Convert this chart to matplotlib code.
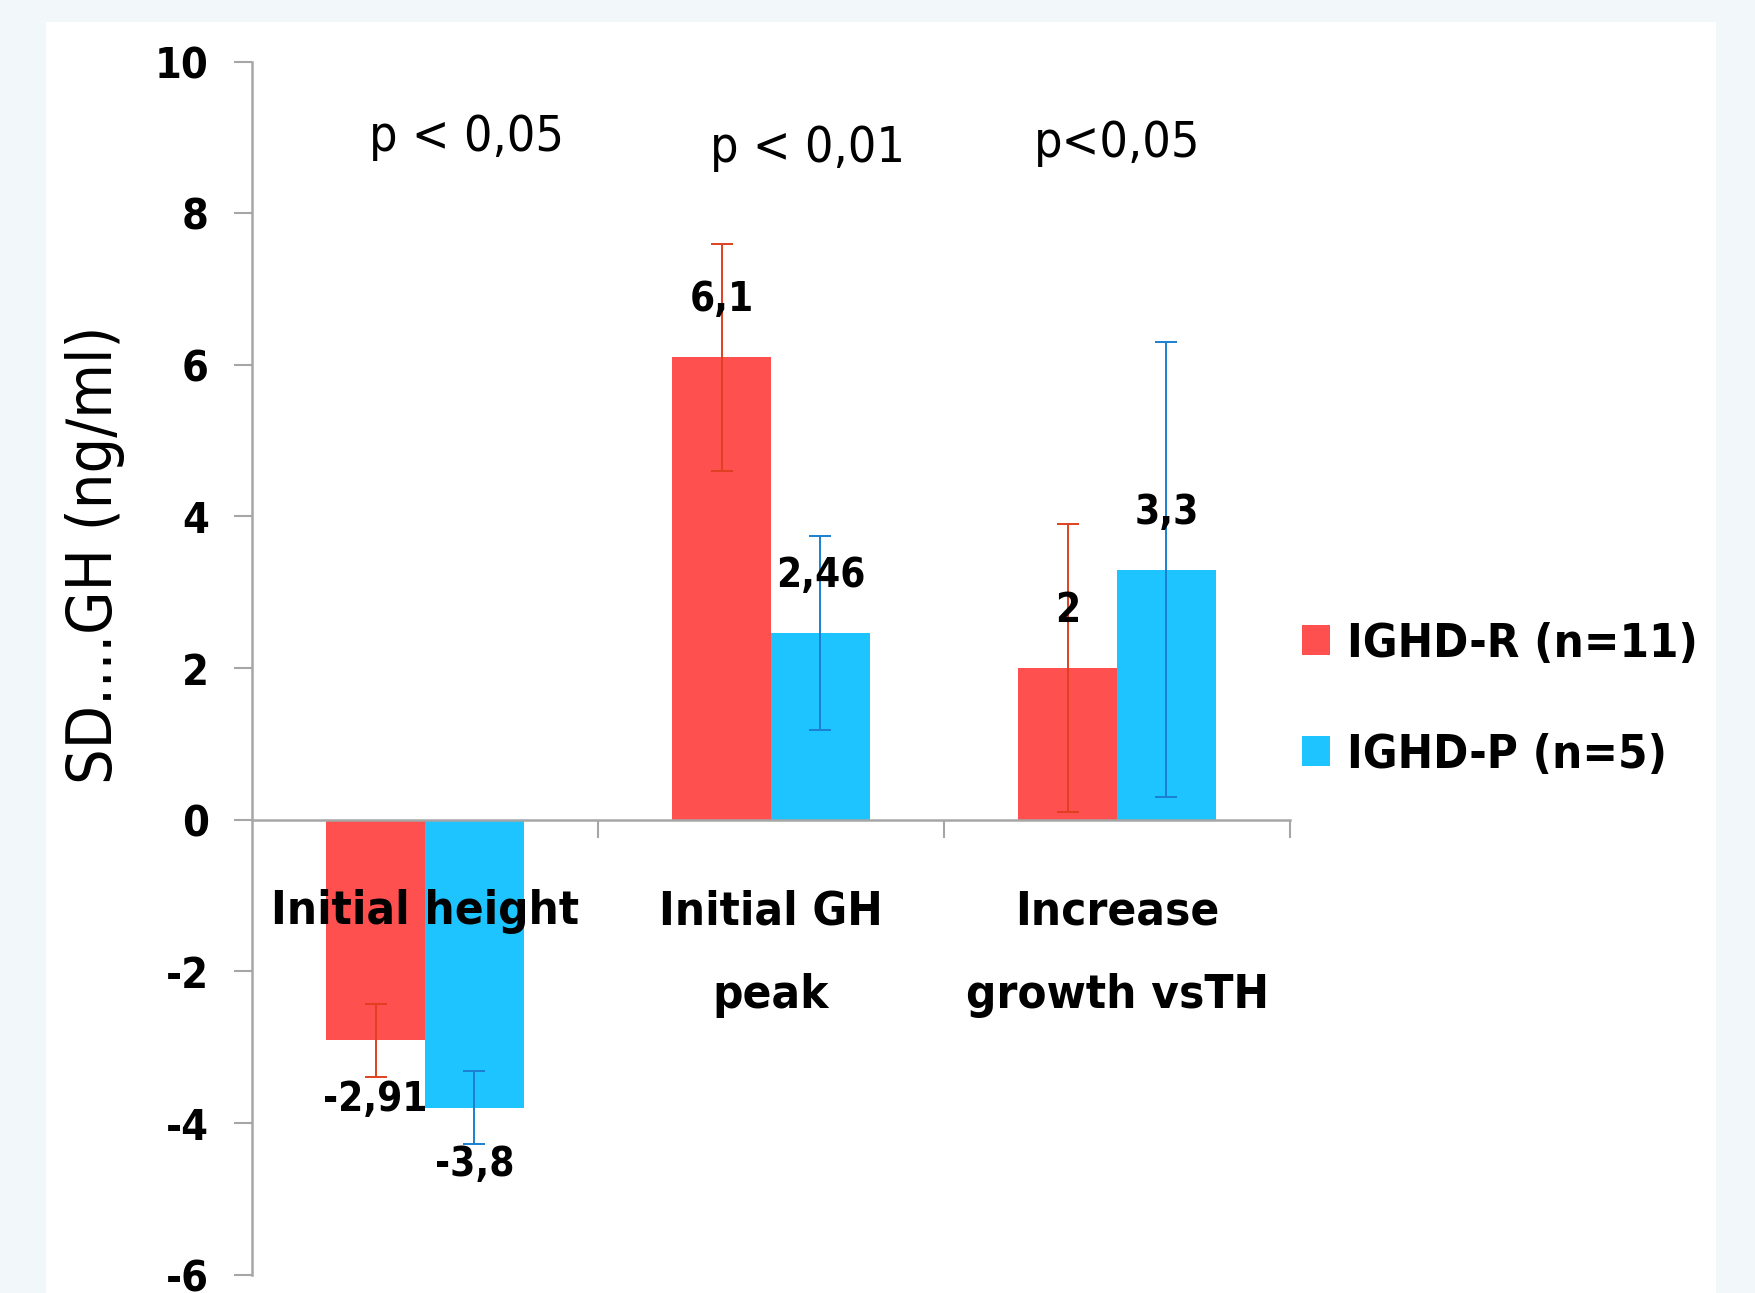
import matplotlib
matplotlib.use("Agg")
import matplotlib.pyplot as plt
from matplotlib.patches import Rectangle, Patch
import numpy as np

plt.rcParams['font.family'] = ['DejaVu Sans']
plt.rcParams['font.stretch'] = 'condensed'

categories = ["Initial height", "Initial GH\npeak", "Increase\ngrowth vsTH"]
series_names = ["IGHD-R (n=11)", "IGHD-P (n=5)"]
values_r = [-2.91, 6.1, 2.0]
values_p = [-3.8, 2.46, 3.3]
err_r = [0.48, 1.5, 1.9]
err_p = [0.48, 1.28, 3.0]
labels_r = ["-2,91", "6,1", "2"]
labels_p = ["-3,8", "2,46", "3,3"]
pvalues = ["p < 0,05", "p < 0,01", "p<0,05"]
pvalue_pos = [(0.12, 9.0), (1.105, 8.86), (2.0, 8.92)]
yticks = [-6, -4, -2, 0, 2, 4, 6, 8, 10]

col_r = "#FF5050"
col_p = "#1EC4FF"
ecol_r = "#E04020"
ecol_p = "#1A80D0"
axis_col = "#A6A6A6"

fig = plt.figure(figsize=(17.56, 12.93), dpi=100)
fig.patch.set_facecolor("#F2F7FA")
fig.patches.append(Rectangle((46/1756, 0), (1716-46)/1756, 1-22/1293,
                             transform=fig.transFigure, facecolor="white",
                             edgecolor="none", zorder=-10))

ax = fig.add_axes([0.1435, 0.0142, 0.5912, 0.9382])
ax.set_zorder(2)
ax.set_facecolor("none")

x = np.arange(len(categories))
w = 0.285
ax.bar(x - w/2, values_r, w, color=col_r, zorder=1)
ax.bar(x + w/2, values_p, w, color=col_p, zorder=1)
ax.errorbar(x - w/2, values_r, yerr=err_r, fmt='none', ecolor=ecol_r,
            elinewidth=1.4, capsize=8, capthick=1.4, zorder=3)
ax.errorbar(x + w/2, values_p, yerr=err_p, fmt='none', ecolor=ecol_p,
            elinewidth=1.4, capsize=8, capthick=1.4, zorder=3)

for xi, v, lab in zip(x - w/2, values_r, labels_r):
    off = 41 if v >= 0 else -43
    ax.annotate(lab, (xi, v), xytext=(0, off), textcoords='offset points',
                ha='center', va='center', fontsize=29, fontweight='bold', zorder=4)
for xi, v, lab in zip(x + w/2, values_p, labels_p):
    off = 41 if v >= 0 else -41
    ax.annotate(lab, (xi, v), xytext=(0, off), textcoords='offset points',
                ha='center', va='center', fontsize=29, fontweight='bold', zorder=4)

for txt, (px, py) in zip(pvalues, pvalue_pos):
    ax.text(px, py, txt, ha='center', va='center', fontsize=36)

ax.set_xlim(-0.5, 2.5)
ax.set_ylim(-6, 10)
ax.set_yticks(yticks)
ax.set_yticklabels([str(t) for t in yticks], fontsize=31, fontweight='bold')
ax.tick_params(axis='y', length=13, width=1.5, color=axis_col, pad=18)

ax.spines['top'].set_visible(False)
ax.spines['right'].set_visible(False)
ax.spines['left'].set_color(axis_col)
ax.spines['left'].set_linewidth(1.8)
ax.spines['bottom'].set_position(('data', 0))
ax.spines['bottom'].set_color(axis_col)
ax.spines['bottom'].set_linewidth(1.8)

ax.set_xticks(x)
ax.set_xticklabels(categories, fontsize=34, fontweight='bold', linespacing=2.12, va='top')
ax.tick_params(axis='x', which='major', length=0, pad=50)
ax.set_xticks([0.5, 1.5, 2.5], minor=True)
ax.tick_params(axis='x', which='minor', length=13, width=1.5, color=axis_col)

fig.text(95/1756, 0.571, "SD....GH (ng/ml)", rotation=90, ha='center', va='center',
         fontsize=45)

handles = [Patch(facecolor=col_r, edgecolor='none'), Patch(facecolor=col_p, edgecolor='none')]
fig.legend(handles, series_names, loc='center left', bbox_to_anchor=(1302/1756, 0.4586),
           frameon=False, prop={'size': 34, 'weight': 'bold'}, handlelength=0.6,
           handleheight=0.6, handletextpad=0.35, labelspacing=1.4, borderpad=0,
           borderaxespad=0)

fig.savefig("out.png", dpi=100, facecolor=fig.get_facecolor())
